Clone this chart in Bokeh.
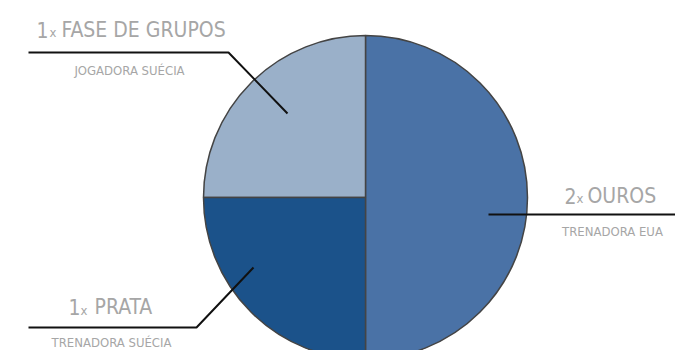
import math
from bokeh.plotting import figure
from bokeh.models import Range1d, ColumnDataSource
from bokeh.core.properties import value
from bokeh.embed import file_html
from bokeh.resources import INLINE

# ---- data ----
counts = [2, 1, 1]
numbers = ["2", "1", "1"]
names = ["OUROS", "FASE DE GRUPOS", "PRATA"]
roles = ["TRENADORA EUA", "JOGADORA SUÉCIA", "TRENADORA SUÉCIA"]
colors = ["#4a72a6", "#9ab0c9", "#1b528a"]

# ---- layout (picture pixel coordinates; data y = 350 - py) ----
W, H = 675, 350
def Y(py):
    return H - py

cx, cy, R = 365, Y(197), 162

total = sum(counts)
starts, ends = [], []
a = -math.pi / 2
for c in counts:
    starts.append(a)
    a += c / total * 2 * math.pi
    ends.append(a)

p = figure(width=W, height=H, x_range=Range1d(0, W), y_range=Range1d(0, H),
           output_backend="svg", toolbar_location=None, min_border=0)
p.axis.visible = False
p.grid.visible = False
p.outline_line_color = None
p.background_fill_color = "white"
p.border_fill_color = "white"

src = ColumnDataSource(dict(start=starts, end=ends, color=colors))
p.wedge(x=cx, y=cy, radius=R, start_angle="start", end_angle="end", fill_color="color",
        line_color="#444444", line_width=1.5, source=src)

# leader lines (label anchors)
leaders = [
    ([488, 675], [214, 214]),
    ([28, 228, 287], [52, 52, 113]),
    ([28, 196, 253], [327, 327, 267]),
]
for xs, ys in leaders:
    p.line(xs, [Y(v) for v in ys], line_color="#111111", line_width=2)

font = value("DejaVu Sans Condensed")
gray = "#a6a6a6"
# label positions: (num_x, x_x, name_x, title_mid, sub_center, sub_mid)
pos = [
    (564, 576, 587, 195, 612, 231),
    (36, 49, 61, 29, 129, 69.5),
    (68, 80, 94, 306.5, 111, 341.5),
]
for i, (nx, xx, nmx, tm, sc, sm) in enumerate(pos):
    p.text([nx], [Y(tm)], text=[numbers[i]], text_font=font, text_font_size="21px",
           text_color=gray, text_baseline="middle", text_align="left")
    p.text([xx], [Y(tm + 3)], text=["x"], text_font=font, text_font_size="13px",
           text_color=gray, text_baseline="middle", text_align="left")
    p.text([nmx], [Y(tm)], text=[names[i]], text_font=font, text_font_size="21px",
           text_color=gray, text_baseline="middle", text_align="left")
    p.text([sc], [Y(sm)], text=[roles[i]], text_font=font, text_font_size="13px",
           text_color=gray, text_baseline="middle", text_align="center")

open("out.html", "w").write(file_html(p, INLINE))
